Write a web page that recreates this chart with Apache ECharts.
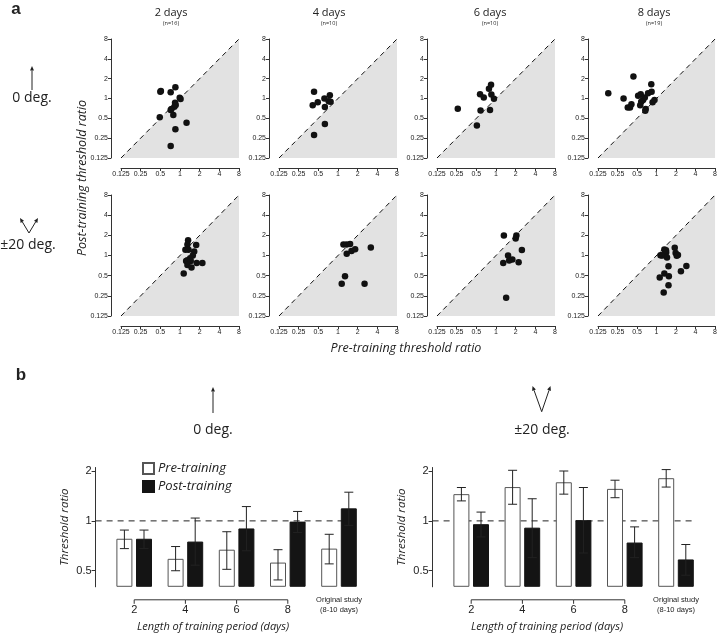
<!DOCTYPE html>
<html><head><meta charset="utf-8">
<script src="https://cdn.jsdelivr.net/npm/echarts@6/dist/echarts.min.js"></script>
<style>html,body{margin:0;padding:0;background:#fff}#c{width:720px;height:634px}</style>
</head><body><div id="c"></div>
<script>
// ---------------- DATA ----------------
const panelTitles = ['2 days', '4 days', '6 days', '8 days'];
const panelN = ['(n=16)', '(n=10)', '(n=10)', '(n=19)'];
const diagonal = [[0.125, 0.125], [8, 8]];

// 0 deg. : [pre-training ratio, post-training ratio]
const zeroDeg2Days = [[0.50,1.27],[0.51,1.30],[0.72,1.24],[0.85,1.48],[0.99,1.03],[1.02,0.98],[0.84,0.86],[0.82,0.75],[0.74,0.69],[0.72,0.67],[0.79,0.56],[0.49,0.52],[1.26,0.43],[0.85,0.34],[0.72,0.19],[0.86,0.80]];
const zeroDeg4Days = [[0.43,1.27],[0.41,0.79],[0.49,0.88],[0.62,1.00],[0.75,1.12],[0.72,0.91],[0.77,0.89],[0.63,0.74],[0.63,0.41],[0.43,0.28]];
const zeroDeg6Days = [[0.26,0.70],[0.57,1.16],[0.65,1.04],[0.78,1.41],[0.84,1.61],[0.85,1.15],[0.93,0.99],[0.58,0.66],[0.81,0.67],[0.51,0.39]];
const zeroDeg8Days = [[0.18,1.20],[0.44,2.16],[0.31,1.00],[0.36,0.73],[0.39,0.73],[0.41,0.82],[0.52,1.10],[0.57,1.16],[0.56,0.79],[0.62,0.95],[0.66,1.04],[0.74,1.20],[0.84,1.27],[0.83,1.65],[0.68,0.69],[0.67,0.65],[0.87,0.88],[0.93,0.95],[0.58,0.89]];
// ±20 deg.
const pm20Deg2Days = [[1.33,1.69],[1.30,1.46],[1.77,1.44],[1.21,1.22],[1.35,1.22],[1.65,1.15],[1.57,1.00],[1.43,0.91],[1.30,0.85],[1.24,0.83],[1.46,0.83],[1.30,0.72],[1.50,0.66],[1.80,0.77],[2.20,0.77],[1.14,0.54]];
const pm20Deg4Days = [[1.21,1.46],[1.35,1.46],[1.53,1.48],[1.36,1.06],[1.61,1.17],[1.83,1.24],[3.18,1.32],[1.28,0.49],[1.14,0.38],[2.55,0.38]];
const pm20Deg6Days = [[1.32,1.99],[2.05,1.99],[2.00,1.79],[2.49,1.21],[1.53,1.00],[1.78,0.87],[1.59,0.84],[1.29,0.77],[2.22,0.79],[1.43,0.235]];
const pm20Deg8Days = [[1.32,1.23],[1.41,1.11],[1.15,1.01],[1.26,1.01],[1.45,0.93],[1.91,1.30],[1.97,1.09],[2.05,0.99],[2.14,1.02],[1.53,0.69],[2.89,0.70],[2.38,0.58],[1.32,0.54],[1.12,0.47],[1.55,0.49],[1.53,0.36],[1.29,0.28],[1.40,1.20],[1.20,1.00]];

// Panel b
const categories = ['2', '4', '6', '8', 'Original study\n(8-10 days)'];
const zeroPreMean  = [0.78, 0.59, 0.67, 0.56, 0.68];
const zeroPreLow   = [0.68, 0.50, 0.51, 0.44, 0.55];
const zeroPreHigh  = [0.88, 0.70, 0.86, 0.67, 0.83];
const zeroPostMean = [0.78, 0.75, 0.90, 0.99, 1.19];
const zeroPostLow  = [0.68, 0.54, 0.66, 0.85, 0.94];
const zeroPostHigh = [0.88, 1.04, 1.22, 1.14, 1.49];
const pmPreMean  = [1.45, 1.60, 1.71, 1.56, 1.81];
const pmPreLow   = [1.32, 1.26, 1.45, 1.38, 1.60];
const pmPreHigh  = [1.59, 2.02, 2.00, 1.76, 2.04];
const pmPostMean = [0.955, 0.91, 1.01, 0.74, 0.585];
const pmPostLow  = [0.80, 0.60, 0.64, 0.60, 0.47];
const pmPostHigh = [1.13, 1.36, 1.59, 0.92, 0.72];
const barTicks = [0.5, 1, 2];
const referenceLevel = 1;

// ---------------- STYLE / LAYOUT ----------------
const TXT = '#222';
const AX = '#333';
const SANS = 'Open Sans';
const HELV = 'Liberation Sans';
const scatterLefts = [121, 279, 437, 598];
const scatterWidth = 118;
const rowTops = [39, 195];
const rowHeights = [119, 121];
const barGridLefts = [108.6, 445.6];
const barGridWidth = 256;
const barTop = 467.5, barHeight = 119.3;
const barAxisMin = 0.4, barAxisMax = 2.1;
const barWidth = 16, barGapPx = 3.6;
const barShift = (barWidth + barGapPx) / 2;

const scatterSets = [zeroDeg2Days, zeroDeg4Days, zeroDeg6Days, zeroDeg8Days,
                     pm20Deg2Days, pm20Deg4Days, pm20Deg6Days, pm20Deg8Days];

const grids = [], xAxes = [], yAxes = [], series = [];
const logAxisCommon = {
  type: 'log', logBase: 2, min: 0.125, max: 8, offset: 10,
  axisLine: { show: true, lineStyle: { color: AX, width: 1 } },
  axisTick: { show: true, length: 3, lineStyle: { color: AX, width: 1 } },
  axisLabel: { fontSize: 7, fontFamily: HELV, color: TXT, margin: 3 },
  splitLine: { show: false }
};
scatterSets.forEach((pts, k) => {
  const row = Math.floor(k / 4), col = k % 4;
  grids.push({ left: scatterLefts[col], top: rowTops[row], width: scatterWidth, height: rowHeights[row] });
  xAxes.push(Object.assign({ gridIndex: k }, logAxisCommon));
  yAxes.push(Object.assign({ gridIndex: k }, logAxisCommon));
  series.push({
    type: 'line', xAxisIndex: k, yAxisIndex: k, data: diagonal, symbol: 'none', silent: true, z: 1,
    lineStyle: { color: '#111', width: 1, type: [5, 4] },
    areaStyle: { color: '#e2e2e2', opacity: 1, origin: 'start' }
  });
  series.push({
    type: 'scatter', xAxisIndex: k, yAxisIndex: k, data: pts, symbolSize: 6.5, z: 3,
    itemStyle: { color: '#111', opacity: 1 }
  });
});

// bar grids
const barSets = [
  { pre: zeroPreMean, preLo: zeroPreLow, preHi: zeroPreHigh, post: zeroPostMean, postLo: zeroPostLow, postHi: zeroPostHigh },
  { pre: pmPreMean, preLo: pmPreLow, preHi: pmPreHigh, post: pmPostMean, postLo: pmPostLow, postHi: pmPostHigh }
];
function errRender(shift) {
  return function (params, api) {
    const i = api.value(0);
    const lo = api.coord([i, api.value(1)]);
    const hi = api.coord([i, api.value(2)]);
    const x = lo[0] + shift;
    const c = 4.5;
    const st = { stroke: '#222', lineWidth: 1 };
    return { type: 'group', children: [
      { type: 'line', shape: { x1: x, y1: lo[1], x2: x, y2: hi[1] }, style: st },
      { type: 'line', shape: { x1: x - c, y1: lo[1], x2: x + c, y2: lo[1] }, style: st },
      { type: 'line', shape: { x1: x - c, y1: hi[1], x2: x + c, y2: hi[1] }, style: st }
    ]};
  };
}
barSets.forEach((b, j) => {
  const gi = 8 + j;
  grids.push({ left: barGridLefts[j], top: barTop, width: barGridWidth, height: barHeight });
  xAxes.push({ gridIndex: gi, type: 'category', data: categories,
    axisLine: { show: false }, axisTick: { show: false }, axisLabel: { show: false }, splitLine: { show: false } });
  yAxes.push({ gridIndex: gi, type: 'log', logBase: 2, min: barAxisMin, max: barAxisMax, startValue: barAxisMin, offset: 13,
    name: 'Threshold ratio', nameLocation: 'middle', nameGap: 25, nameRotate: 90,
    nameTextStyle: { fontFamily: SANS, fontStyle: 'italic', fontSize: 11.5, color: TXT },
    axisLine: { show: true, lineStyle: { color: AX, width: 1 } },
    axisTick: { show: true, length: 4, customValues: barTicks, lineStyle: { color: AX } },
    axisLabel: { fontSize: 11, fontFamily: HELV, color: TXT, margin: 4, customValues: barTicks },
    splitLine: { show: false } });
  // reference dashed line at 1
  series.push({ type: 'custom', xAxisIndex: gi, yAxisIndex: gi, data: [[0, referenceLevel]], clip: false, silent: true, z: 1,
    renderItem: function (params, api) {
      const p = api.coord([0, api.value(1)]);
      const q = api.coord([categories.length - 1, api.value(1)]);
      const band = api.size([1, 0])[0];
      return { type: 'line', shape: { x1: p[0] - band / 2 - 13, y1: p[1], x2: q[0] + barShift + barWidth / 2 + 1, y2: p[1] },
        style: { stroke: '#222', lineWidth: 1, lineDash: [6, 5] } };
    } });
  series.push({ type: 'bar', name: 'Pre-training', xAxisIndex: gi, yAxisIndex: gi, data: b.pre, barWidth: barWidth, barGap: (barGapPx / barWidth * 100) + '%', z: 2,
    itemStyle: { color: '#fff', borderColor: '#555', borderWidth: 1 } });
  series.push({ type: 'bar', name: 'Post-training', xAxisIndex: gi, yAxisIndex: gi, data: b.post, barWidth: barWidth, z: 2,
    itemStyle: { color: '#141414', borderColor: '#141414', borderWidth: 1 } });
  series.push({ type: 'custom', xAxisIndex: gi, yAxisIndex: gi, clip: false, z: 4, silent: true,
    data: b.pre.map((v, i) => [i, b.preLo[i], b.preHi[i]]), renderItem: errRender(-barShift) });
  series.push({ type: 'custom', xAxisIndex: gi, yAxisIndex: gi, clip: false, z: 4, silent: true,
    data: b.post.map((v, i) => [i, b.postLo[i], b.postHi[i]]), renderItem: errRender(barShift) });
  // category axis (training length 2..8 with line, plus original study label)
  series.push({ type: 'custom', xAxisIndex: gi, yAxisIndex: gi, clip: false, silent: true, z: 4,
    data: categories.map((c, i) => [i, barAxisMin]),
    renderItem: function (params, api) {
      const i = api.value(0);
      const p = api.coord([i, api.value(1)]);
      const band = api.size([1, 0])[0];
      const y = p[1] + 13;
      const st = { stroke: AX, lineWidth: 1 };
      const ch = [];
      if (i < categories.length - 1) {
        ch.push({ type: 'line', shape: { x1: p[0], y1: y, x2: p[0], y2: y + 4 }, style: st });
        if (i < categories.length - 2) ch.push({ type: 'line', shape: { x1: p[0], y1: y, x2: p[0] + band, y2: y }, style: st });
        ch.push({ type: 'text', style: { text: categories[i], x: p[0], y: y + 5, align: 'center', verticalAlign: 'top',
          font: '11px "Liberation Sans"', fill: TXT } });
      } else {
        ch.push({ type: 'text', style: { text: categories[i], x: p[0], y: y - 5, align: 'center', verticalAlign: 'top',
          font: '7.5px "Liberation Sans"', lineHeight: 10, fill: TXT } });
      }
      return { type: 'group', children: ch };
    } });
});

// ---------------- GRAPHICS (labels, arrows) ----------------
const graphics = [];
function txt(text, x, y, font, opts) {
  graphics.push(Object.assign({ type: 'text', x: x, y: y, silent: true,
    style: { text: text, font: font, fill: TXT, align: 'center', verticalAlign: 'middle' } }, opts || {}));
}
function arrow(x1, y1, x2, y2) {
  const ang = Math.atan2(y2 - y1, x2 - x1), L = 4.5, W = 2;
  const bx = x2 - L * Math.cos(ang), by = y2 - L * Math.sin(ang);
  const nx = -Math.sin(ang) * W, ny = Math.cos(ang) * W;
  graphics.push({ type: 'line', silent: true, shape: { x1: x1, y1: y1, x2: bx, y2: by }, style: { stroke: '#222', lineWidth: 1 } });
  graphics.push({ type: 'polygon', silent: true, shape: { points: [[x2, y2], [bx + nx, by + ny], [bx - nx, by - ny]] }, style: { fill: '#222' } });
}
txt('a', 16, 9, 'bold 17px "Liberation Sans"');
txt('b', 21, 375, 'bold 17px "Liberation Sans"');
const titleX = [171, 329, 490, 654];
panelTitles.forEach((t, i) => {
  txt(t, titleX[i], 13, '11px "Open Sans"');
  txt(panelN[i], titleX[i], 23.5, '5.5px "Open Sans"');
});
txt('0 deg.', 32, 98, '14px "Open Sans"');
arrow(32, 90, 32, 66);
txt('±20 deg.', 28, 245, '14px "Open Sans"');
arrow(29, 233, 20, 218);
arrow(29, 233, 38, 218);
txt('Post-training threshold ratio', 82, 178, 'italic 12.5px "Open Sans"', { rotation: Math.PI / 2 });
txt('Pre-training threshold ratio', 406, 348, 'italic 12.5px "Open Sans"');
txt('0 deg.', 213, 430, '14px "Open Sans"');
arrow(213, 413, 213, 387);
txt('±20 deg.', 542, 430, '14px "Open Sans"');
arrow(541.7, 411.7, 532.5, 386);
arrow(541.7, 411.7, 550.5, 386);
txt('Length of training period (days)', 213, 627, 'italic 11px "Open Sans"');
txt('Length of training period (days)', 547, 627, 'italic 11px "Open Sans"');

const chart = echarts.init(document.getElementById('c'), null, { renderer: 'canvas' });
chart.setOption({
  animation: false,
  backgroundColor: '#fff',
  textStyle: { fontFamily: SANS },
  grid: grids, xAxis: xAxes, yAxis: yAxes, series: series,
  legend: { data: ['Pre-training', 'Post-training'], orient: 'vertical', left: 137, top: 457, itemWidth: 11, itemHeight: 11, itemGap: 5,
    selectedMode: false, icon: 'rect',
    textStyle: { fontFamily: SANS, fontStyle: 'italic', fontSize: 13, color: TXT, padding: [0, 0, 0, -1] } },
  graphic: graphics
});
</script></body></html>
